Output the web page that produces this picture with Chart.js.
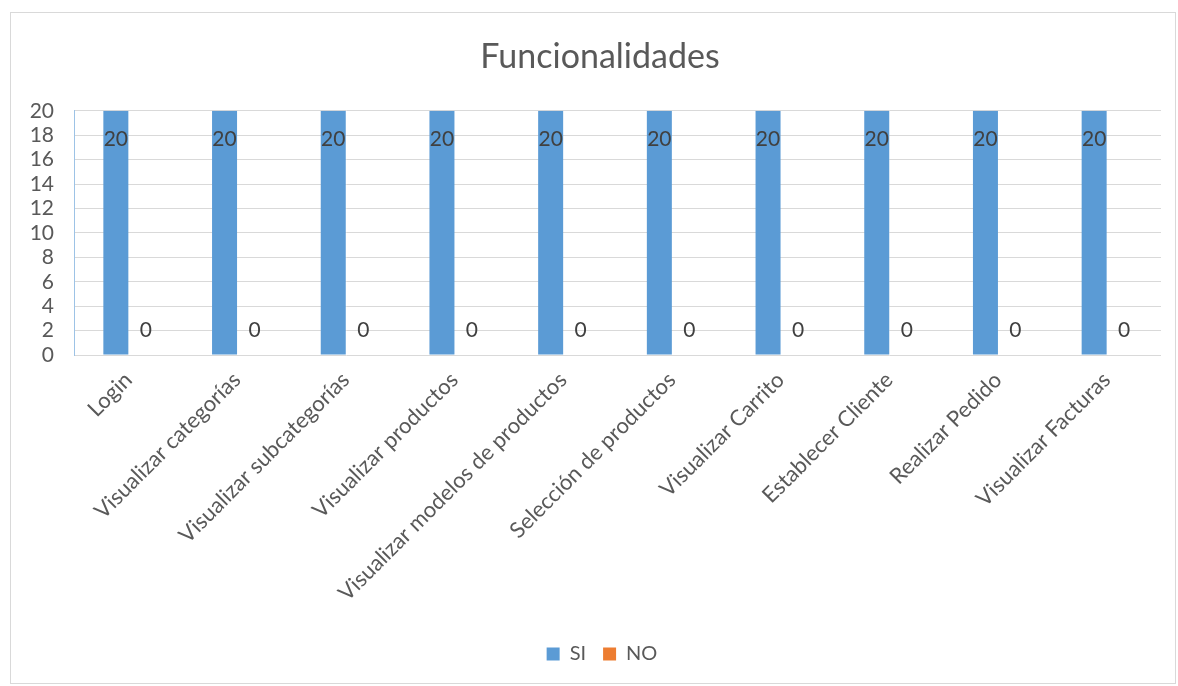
<!DOCTYPE html>
<html lang="es">
<head>
    <meta charset="UTF-8">
    <title>Funcionalidades</title>
    <script src="https://cdn.jsdelivr.net/npm/chart.js"></script>
    <style>
        body {
            margin: 0;
            background: #fff;
        }
        .chart-box {
            position: absolute;
            left: 10px;
            top: 12px;
            width: 1166px;
            height: 672px;
            border: 1px solid #d9d9d9;
            box-sizing: border-box;
        }
    </style>
</head>
<body>
<div class="chart-box">
    <canvas id="funcChart"></canvas>
</div>

<script>
    // datos del gráfico
    const categorias = ['Login', 'Visualizar categorías', 'Visualizar subcategorías', 'Visualizar productos',
        'Visualizar modelos de productos', 'Selección de productos', 'Visualizar Carrito',
        'Establecer Cliente', 'Realizar Pedido', 'Visualizar Facturas'];
    const valoresSI = [20, 20, 20, 20, 20, 20, 20, 20, 20, 20];
    const valoresNO = [0, 0, 0, 0, 0, 0, 0, 0, 0, 0];
    const ticksY = [0, 2, 4, 6, 8, 10, 12, 14, 16, 18, 20];

    const FONT = "Lato, 'Liberation Sans', Arial, sans-serif";
    const GRIS = '#595959';

    // etiquetas de datos como en Excel
    const etiquetas = {
        id: 'etiquetas',
        afterDatasetsDraw(chart) {
            const ctx = chart.ctx;
            ctx.save();
            ctx.font = '21px ' + FONT;
            ctx.fillStyle = '#404040';
            ctx.textAlign = 'center';
            ctx.textBaseline = 'middle';
            chart.data.datasets.forEach((ds, i) => {
                chart.getDatasetMeta(i).data.forEach((bar, j) => {
                    const v = ds.data[j];
                    const y = v > 0 ? bar.y + 28 : bar.y - 25;
                    const x = v > 0 ? bar.x : bar.x + 5;
                    ctx.fillText(String(v), x, y);
                });
            });
            ctx.restore();
        }
    };

    // título y leyenda un poco a la derecha, como en el original
    const desplazar = {
        id: 'desplazar',
        afterLayout(chart) {
            if (chart.titleBlock) {
                chart.titleBlock.left += 10;
                chart.titleBlock.right += 10;
            }
            if (chart.legend) {
                chart.legend.left += 12;
                chart.legend.right += 12;
            }
        }
    };

    const ctx = document.getElementById('funcChart').getContext('2d');
    const funcChart = new Chart(ctx, {
        type: 'bar',
        data: {
            labels: categorias,
            datasets: [{
                label: 'SI',
                data: valoresSI,
                backgroundColor: '#5b9bd5'
            }, {
                label: 'NO',
                data: valoresNO,
                backgroundColor: '#ed7d31'
            }]
        },
        options: {
            responsive: true,
            maintainAspectRatio: false,
            animation: false,
            categoryPercentage: 0.46,
            barPercentage: 1.0,
            layout: {
                padding: { left: 8, right: 14, top: 0, bottom: 9 }
            },
            plugins: {
                title: {
                    display: true,
                    text: 'Funcionalidades',
                    color: GRIS,
                    font: { family: FONT, size: 34, weight: 'normal' },
                    padding: { top: 24, bottom: 33 }
                },
                legend: {
                    position: 'bottom',
                    labels: {
                        color: GRIS,
                        font: { family: FONT, size: 20 },
                        boxWidth: 13,
                        boxHeight: 13,
                        padding: 17
                    }
                },
                tooltip: { enabled: false }
            },
            scales: {
                x: {
                    grid: { display: false },
                    border: { display: false },
                    ticks: {
                        color: GRIS,
                        font: { family: FONT, size: 22 },
                        minRotation: 45,
                        maxRotation: 45,
                        autoSkip: false,
                        padding: 4
                    },
                    afterFit(scale) { scale.height = 272; }
                },
                y: {
                    min: 0,
                    max: 20,
                    afterBuildTicks(scale) {
                        scale.ticks = ticksY.map(v => ({ value: v }));
                    },
                    grid: { color: '#d9d9d9', drawTicks: false },
                    border: { color: '#9dc3e6' },
                    ticks: {
                        color: GRIS,
                        font: { family: FONT, size: 21 },
                        autoSkip: false,
                        padding: 20
                    },
                    afterFit(scale) { scale.width = 55; }
                }
            }
        },
        plugins: [etiquetas, desplazar]
    });
</script>
</body>
</html>
